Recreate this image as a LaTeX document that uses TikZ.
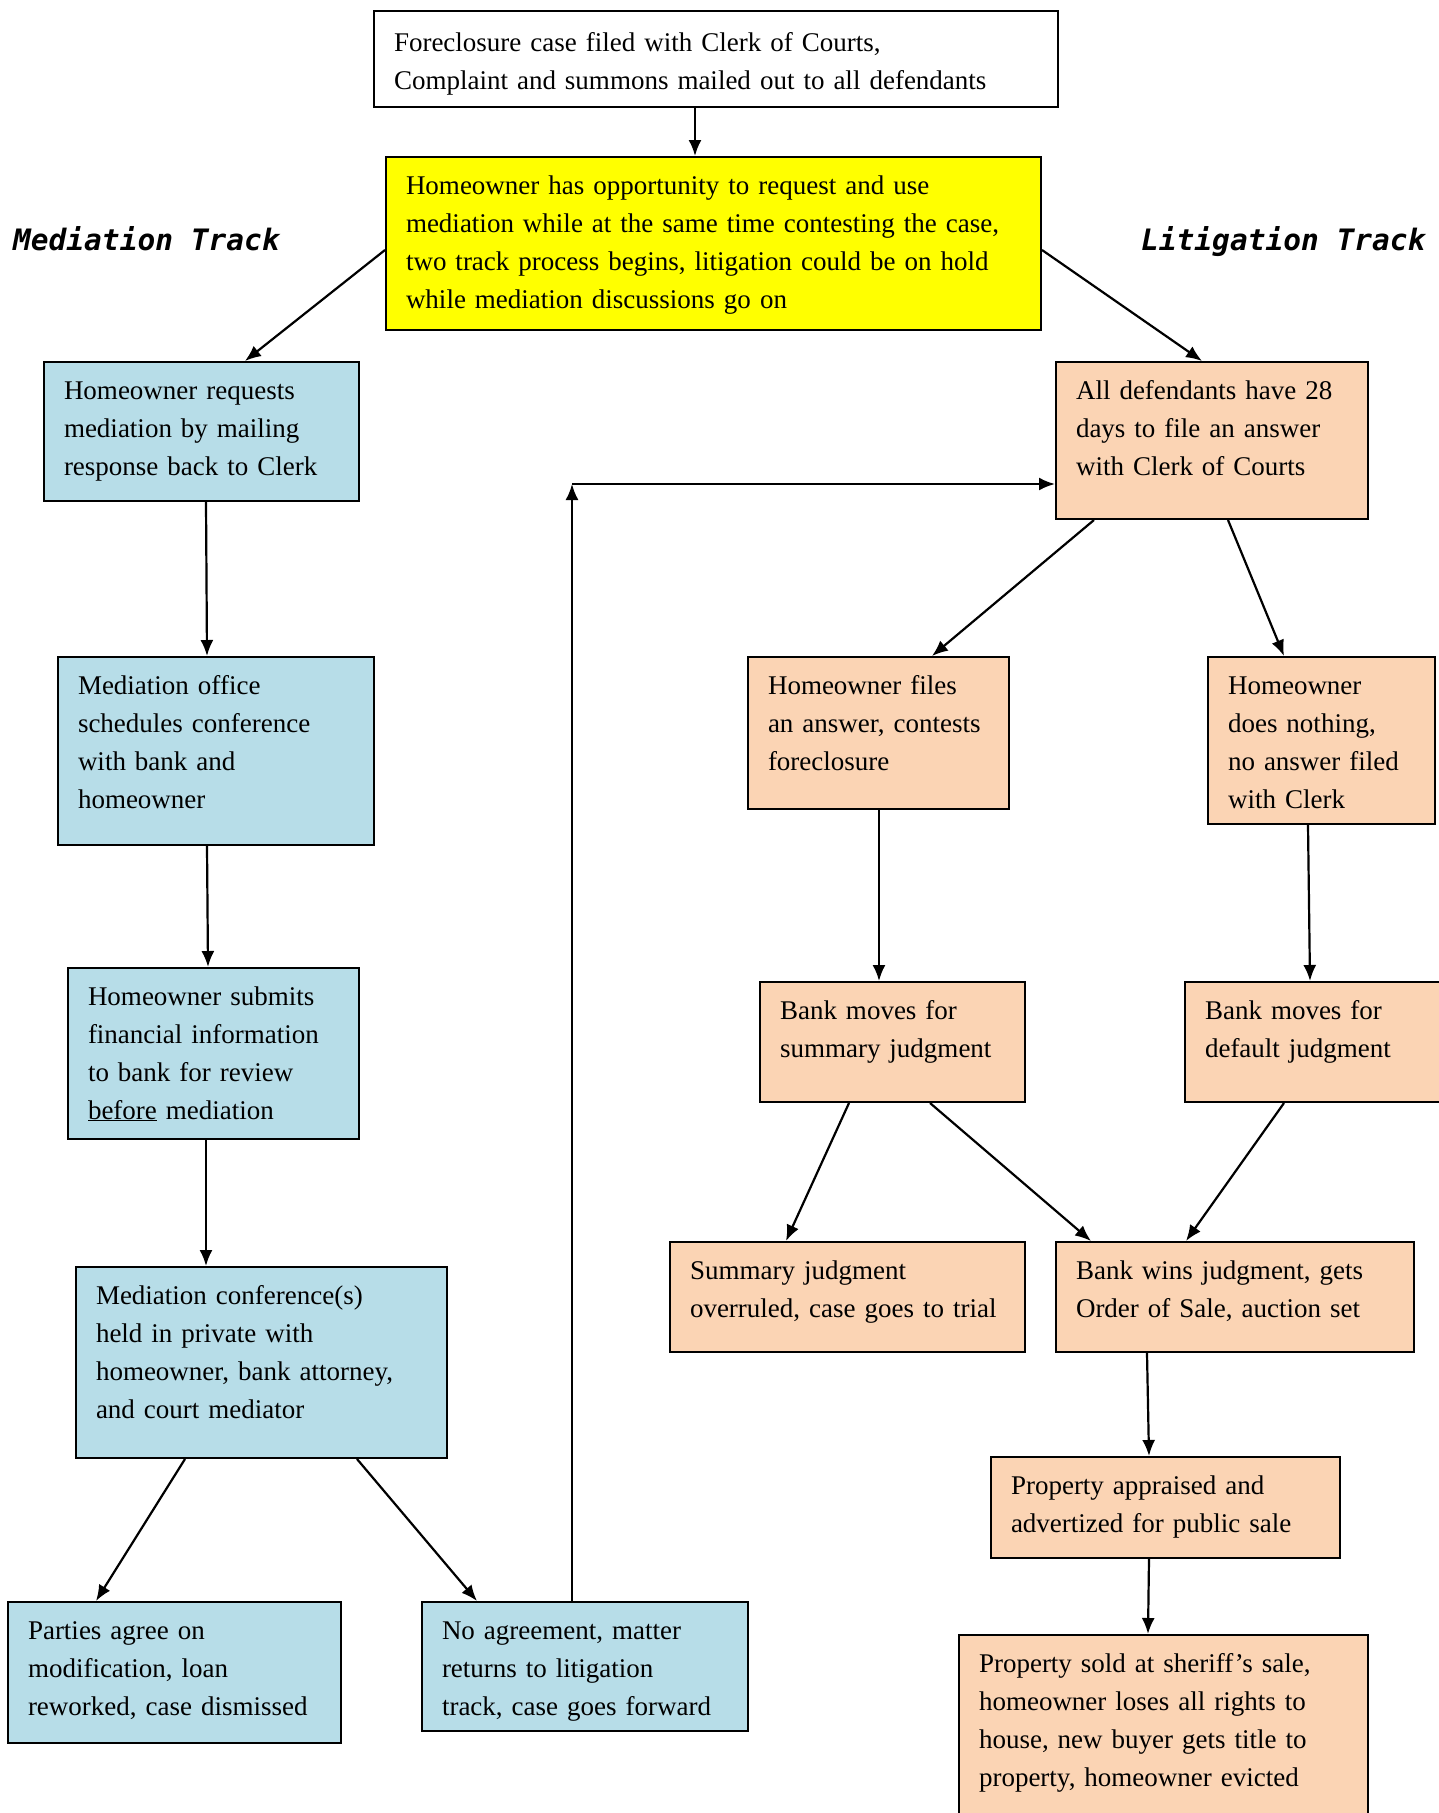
\documentclass[tikz,border=0pt]{standalone}
\usepackage{fontspec}
\setmainfont{Liberation Serif}
\newfontfamily\trackfont{DejaVu Sans Mono}
\usetikzlibrary{arrows.meta}

\begin{document}
\begin{tikzpicture}[x=1pt,y=-1pt,
    stepbox/.style={draw, line width=2pt, anchor=north west, align=left,
      inner xsep=20pt, inner ysep=0pt, text height=37pt,
      font=\fontsize{27pt}{38pt}\selectfont},
    medbox/.style={stepbox, fill=medfill},
    litbox/.style={stepbox, fill=litfill},
    flow/.style={line width=2.2pt, -{Latex[length=16pt,width=13pt]}},
    tracklabel/.style={anchor=west, inner sep=0pt,
      font=\fontsize{29.5pt}{29.5pt}\trackfont\bfseries\itshape}]
				\definecolor{medfill}{RGB}{183, 221, 232}
				\definecolor{litfill}{RGB}{251, 212, 180}
				\definecolor{startfill}{RGB}{255, 255, 0}
				\useasboundingbox (0,0) rectangle (1439,1813);
				% start of the case
				\node[stepbox, text width=644pt, text height=40pt, text depth=56pt] (filed) at (373,10)
				  {Foreclosure case filed with Clerk of Courts,\\Complaint and summons mailed out to all defendants};
				\node[stepbox, fill=startfill, text width=615pt, text depth=136pt] (twotrack) at (385,156)
				  {Homeowner has opportunity to request and use\\mediation while at the same time contesting the case,\\two track process begins, litigation could be on hold\\while mediation discussions go on};
				\node[tracklabel] (medtitle) at (13,239) {Mediation Track};
				\node[tracklabel] (littitle) at (1141,242) {Litigation Track};
				% mediation track
				\node[medbox, text width=275pt, text depth=102pt] (request) at (43,361)
				  {Homeowner requests\\mediation by mailing\\response back to Clerk};
				\node[medbox, text width=276pt, text depth=151pt] (schedule) at (57,656)
				  {Mediation office\\schedules conference\\with bank and\\homeowner};
				\node[medbox, text width=251pt, text depth=134pt] (submit) at (67,967)
				  {Homeowner submits\\financial information\\to bank for review\\\underline{before} mediation};
				\node[medbox, text width=331pt, text depth=154pt] (conference) at (75,1266)
				  {Mediation conference(s)\\held in private with\\homeowner, bank attorney,\\and court mediator};
				\node[medbox, text width=293pt, text depth=104pt] (agree) at (7,1601)
				  {Parties agree on\\modification, loan\\reworked, case dismissed};
				\node[medbox, text width=286pt, text depth=92pt] (noagree) at (421,1601)
				  {No agreement, matter\\returns to litigation\\track, case goes forward};
				% litigation track
				\node[litbox, text width=272pt, text depth=120pt] (answerdays) at (1055,361)
				  {All defendants have 28\\days to file an answer\\with Clerk of Courts};
				\node[litbox, text width=221pt, text depth=115pt] (contest) at (747,656)
				  {Homeowner files\\an answer, contests\\foreclosure};
				\node[litbox, text width=187pt, text depth=130pt] (nothing) at (1207,656)
				  {Homeowner\\does nothing,\\no answer filed\\with Clerk};
				\node[litbox, text width=225pt, text depth=83pt] (summary) at (759,981)
				  {Bank moves for\\summary judgment};
				\node[litbox, text width=230pt, text depth=83pt] (default) at (1184,981)
				  {Bank moves for\\default judgment};
				\node[litbox, text width=315pt, text depth=73pt] (trial) at (669,1241)
				  {Summary judgment\\overruled, case goes to trial};
				\node[litbox, text width=318pt, text depth=73pt] (wins) at (1055,1241)
				  {Bank wins judgment, gets\\Order of Sale, auction set};
				\node[litbox, text width=309pt, text depth=64pt] (appraise) at (990,1456)
				  {Property appraised and\\advertized for public sale};
				\node[litbox, text width=369pt, text depth=163pt] (sold) at (958,1634)
				  {Property sold at sheriff’s sale,\\homeowner loses all rights to\\house, new buyer gets title to\\property, homeowner evicted};
				\coordinate (back) at (572,484);
				% connectors
				\draw[flow] ([xshift=322pt]filed.south west) -- ([xshift=310pt]twotrack.north west);
				\draw[flow] ([yshift=-94pt]twotrack.north west) -- ([xshift=202pt]request.north west);
				\draw[flow] ([yshift=-94pt]twotrack.north east) -- ([xshift=147pt]answerdays.north west);
				\draw[flow] ([xshift=163pt]request.south west) -- ([xshift=150pt]schedule.north west);
				\draw[flow] ([xshift=150pt]schedule.south west) -- ([xshift=141pt]submit.north west);
				\draw[flow] ([xshift=139pt]submit.south west) -- ([xshift=131pt]conference.north west);
				\draw[flow] ([xshift=110pt]conference.south west) -- ([xshift=89pt]agree.north west);
				\draw[flow] ([xshift=282pt]conference.south west) -- ([xshift=56pt]noagree.north west);
				\draw[flow] ([xshift=151pt]noagree.north west) -- (back);
				\draw[flow] (back) -- (back -| answerdays.west);
				\draw[flow] ([xshift=39pt]answerdays.south west) -- ([xshift=185pt]contest.north west);
				\draw[flow] ([xshift=173pt]answerdays.south west) -- ([xshift=77pt]nothing.north west);
				\draw[flow] ([xshift=132pt]contest.south west) -- ([xshift=120pt]summary.north west);
				\draw[flow] ([xshift=101pt]nothing.south west) -- ([xshift=126pt]default.north west);
				\draw[flow] ([xshift=90pt]summary.south west) -- ([xshift=117pt]trial.north west);
				\draw[flow] ([xshift=171pt]summary.south west) -- ([xshift=36pt]wins.north west);
				\draw[flow] ([xshift=100pt]default.south west) -- ([xshift=131pt]wins.north west);
				\draw[flow] ([xshift=92pt]wins.south west) -- ([xshift=159pt]appraise.north west);
				\draw[flow] ([xshift=159pt]appraise.south west) -- ([xshift=190pt]sold.north west);
			\end{tikzpicture}
\end{document}
